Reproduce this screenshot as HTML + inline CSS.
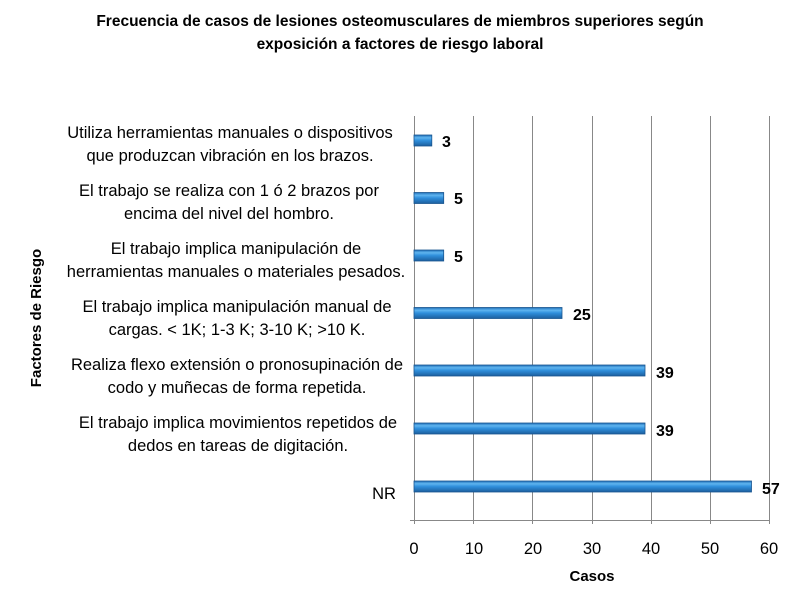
<!DOCTYPE html>
<html><head><meta charset="utf-8"><style>
body{margin:0;background:#fff;}
svg text{font-family:"Liberation Sans",sans-serif;}
</style></head><body>
<svg width="800" height="600" xmlns="http://www.w3.org/2000/svg">
<defs>
<linearGradient id="g" x1="0" y1="0" x2="0" y2="1">
<stop offset="0" stop-color="#1f6fb8"/>
<stop offset="0.25" stop-color="#5fb4ef"/>
<stop offset="0.5" stop-color="#2f8fdc"/>
<stop offset="1" stop-color="#1c5f9e"/>
</linearGradient>
</defs>
<rect width="800" height="600" fill="#fff"/>
<text x="400" y="26" font-size="15.5" font-weight="bold" text-anchor="middle">Frecuencia  de casos de lesiones osteomusculares de miembros superiores  según</text>
<text x="400" y="49" font-size="15.5" font-weight="bold" text-anchor="middle">exposición a factores de riesgo laboral</text>
<g stroke="#888" stroke-width="1">
<line x1="473.5" y1="116" x2="473.5" y2="524"/>
<line x1="532.5" y1="116" x2="532.5" y2="524"/>
<line x1="592.5" y1="116" x2="592.5" y2="524"/>
<line x1="651.5" y1="116" x2="651.5" y2="524"/>
<line x1="710.5" y1="116" x2="710.5" y2="524"/>
<line x1="769.5" y1="116" x2="769.5" y2="524"/>
<line x1="414.5" y1="116" x2="414.5" y2="524"/>
<line x1="410" y1="520.5" x2="770" y2="520.5"/>
</g>
<g fill="url(#g)" stroke="#1a5690" stroke-width="0.8">
<rect x="414" y="135" width="17.8" height="11"/>
<rect x="414" y="192.5" width="29.7" height="11"/>
<rect x="414" y="250" width="29.7" height="11"/>
<rect x="414" y="307.5" width="148" height="11"/>
<rect x="414" y="365" width="231" height="11"/>
<rect x="414" y="423" width="231" height="11"/>
<rect x="414" y="481" width="337.5" height="11"/>
</g>
<g font-size="16" font-weight="bold">
<text x="442" y="147">3</text>
<text x="454" y="204">5</text>
<text x="454" y="262">5</text>
<text x="573" y="320">25</text>
<text x="656" y="378">39</text>
<text x="656" y="436">39</text>
<text x="762" y="494">57</text>
</g>
<g font-size="16.5" text-anchor="middle">
<text x="230" y="138">Utiliza herramientas manuales o dispositivos</text>
<text x="230" y="161">que produzcan vibración en los brazos.</text>
<text x="229" y="196">El trabajo se realiza con 1 ó 2 brazos por</text>
<text x="229" y="219">encima del nivel del hombro.</text>
<text x="236" y="254">El trabajo implica manipulación de</text>
<text x="236" y="277">herramientas manuales o materiales pesados.</text>
<text x="237" y="312">El trabajo implica manipulación manual de</text>
<text x="237" y="335">cargas. &lt; 1K; 1-3 K; 3-10 K; &gt;10 K.</text>
<text x="237" y="370">Realiza flexo extensión o pronosupinación de</text>
<text x="237" y="393">codo y muñecas de forma repetida.</text>
<text x="238" y="428">El trabajo implica movimientos repetidos de</text>
<text x="238" y="451">dedos en tareas de digitación.</text>
<text x="384" y="499">NR</text>
</g>
<g font-size="16.5" text-anchor="middle">
<text x="414" y="554">0</text>
<text x="474" y="554">10</text>
<text x="533" y="554">20</text>
<text x="592" y="554">30</text>
<text x="651" y="554">40</text>
<text x="710" y="554">50</text>
<text x="769" y="554">60</text>
</g>
<text x="592" y="581" font-size="15" font-weight="bold" text-anchor="middle">Casos</text>
<text transform="translate(41,318) rotate(-90)" font-size="15" font-weight="bold" text-anchor="middle">Factores de Riesgo</text>
</svg>
</body></html>
